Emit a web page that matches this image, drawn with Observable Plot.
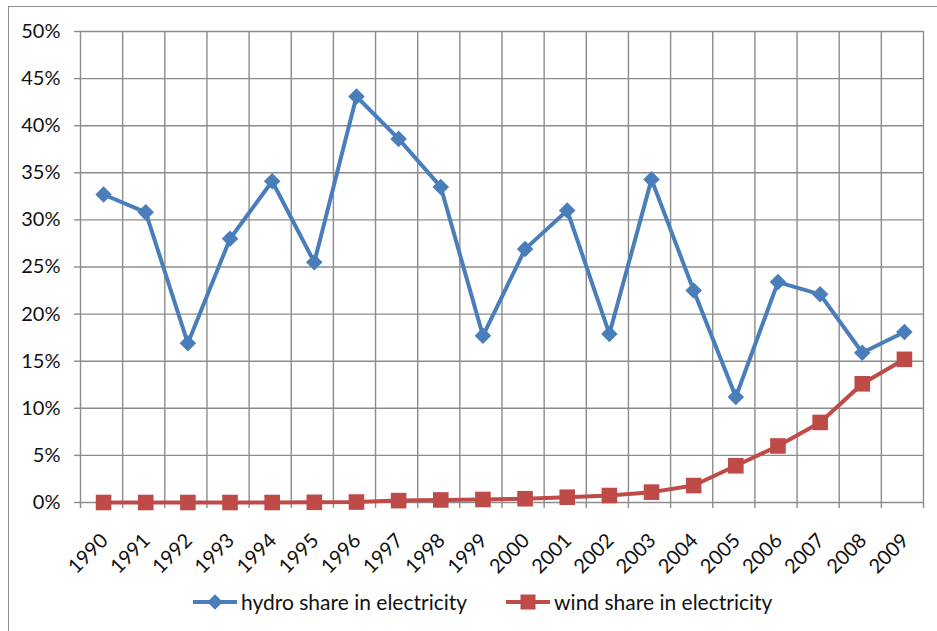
<!DOCTYPE html>
<html>
<head>
<meta charset="utf-8">
<script src="https://cdn.jsdelivr.net/npm/d3@7"></script>
<script src="https://cdn.jsdelivr.net/npm/@observablehq/plot@0.6"></script>
<style>
  html, body { margin: 0; padding: 0; background: #fff; overflow: hidden; }
  body { width: 937px; height: 631px; position: relative; font-family: Lato, "Liberation Sans", sans-serif; }
  #frame { position: absolute; left: 8px; top: 6px; width: 1000px; height: 700px; border: 1.5px solid #8f8f8f; box-sizing: border-box; }
  #chart { position: absolute; left: 0; top: 0; }
  #legend { position: absolute; left: 193px; top: 589px; display: flex; align-items: center; font-size: 21px; color: #111; white-space: nowrap; }
  .item { display: flex; align-items: center; }
  .item svg { margin-right: 4px; }
</style>
</head>
<body>
<div id="frame"></div>
<div id="chart"></div>
<div id="legend"></div>
<script>
// Share of electricity generation, 1990–2009
const years = [1990, 1991, 1992, 1993, 1994, 1995, 1996, 1997, 1998, 1999,
               2000, 2001, 2002, 2003, 2004, 2005, 2006, 2007, 2008, 2009];
const hydroShare = [32.7, 30.8, 16.9, 28.0, 34.1, 25.5, 43.1, 38.6, 33.5, 17.7,
                    26.9, 31.0, 17.9, 34.3, 22.5, 11.2, 23.4, 22.1, 15.9, 18.1];
const windShare = [0.0, 0.0, 0.0, 0.0, 0.0, 0.02, 0.05, 0.2, 0.27, 0.32,
                   0.4, 0.56, 0.74, 1.1, 1.8, 3.9, 6.0, 8.5, 12.6, 15.2];
const yTicks = [0, 0.05, 0.10, 0.15, 0.20, 0.25, 0.30, 0.35, 0.40, 0.45, 0.50];

const seriesNames = ["hydro share in electricity", "wind share in electricity"];
const colors = ["#4a7ebb", "#be4b48"];

const rows = years.map((year, i) => ({year, hydro: hydroShare[i] / 100, wind: windShare[i] / 100}));
// category boundaries: one gridline between each pair of years, plus both ends
const bounds = [...years.map(y => y - 0.5), years[years.length - 1] + 0.5];

const grid = "#8c8c8c";
const font = 20;

const chart = Plot.plot({
  width: 937,
  height: 582,
  marginLeft: 80,
  marginRight: 14,
  marginTop: 31,
  marginBottom: 80,
  style: {fontFamily: "Lato, 'Liberation Sans', sans-serif", fontSize: font + "px", color: "#111", background: "transparent"},
  x: {type: "linear", domain: [bounds[0], bounds[bounds.length - 1]], axis: null},
  y: {domain: [0, 0.5], axis: null},
  marks: [
    Plot.ruleY(yTicks, {stroke: grid, strokeWidth: 1.4}),
    Plot.ruleX(bounds, {y1: 0, y2: 0.5, stroke: grid, strokeWidth: 1.4}),
    Plot.axisX(bounds, {tickSize: 6, tickFormat: () => "", label: null, stroke: grid, strokeWidth: 1.4, strokeOpacity: 1}),
    Plot.axisY(yTicks, {tickSize: 6, tickPadding: 14, tickFormat: d3.format(".0%"), label: null, stroke: grid, strokeWidth: 1.4, strokeOpacity: 1, fontSize: font, fill: "#111"}),
    Plot.axisX(years, {tickSize: 0, tickRotate: -45, tickFormat: d => String(d), label: null, fontSize: font, fill: "#111", dx: 3, dy: 23}),
    Plot.line(rows, {x: "year", y: "hydro", stroke: colors[0], strokeWidth: 4, strokeLinejoin: "round", dx: 2}),
    Plot.dot(rows, {x: "year", y: "hydro", symbol: "square", rotate: 45, r: 6.6, fill: colors[0], dx: 2}),
    Plot.line(rows, {x: "year", y: "wind", stroke: colors[1], strokeWidth: 4, strokeLinejoin: "round", dx: 2}),
    Plot.dot(rows, {x: "year", y: "wind", symbol: "square", r: 8.8, fill: colors[1], dx: 2})
  ]
});
document.getElementById("chart").append(chart);

// legend: line swatch with the series marker, then the series name
const legend = d3.select("#legend");
seriesNames.forEach((name, i) => {
  const item = legend.append("div").attr("class", "item").style("margin-right", i === 0 ? "39px" : "0");
  const sw = item.append("svg").attr("width", 44).attr("height", 20);
  sw.append("line").attr("x1", 0).attr("x2", 44).attr("y1", 10).attr("y2", 10)
    .attr("stroke", colors[i]).attr("stroke-width", 4);
  if (i === 0) {
    sw.append("rect").attr("x", 22 - 5.5).attr("y", 10 - 5.5).attr("width", 11).attr("height", 11)
      .attr("transform", "rotate(45 22 10)").attr("fill", colors[i]);
  } else {
    sw.append("rect").attr("x", 22 - 7.5).attr("y", 10 - 7.5).attr("width", 15).attr("height", 15).attr("fill", colors[i]);
  }
  item.append("span").text(name);
});
</script>
</body>
</html>
